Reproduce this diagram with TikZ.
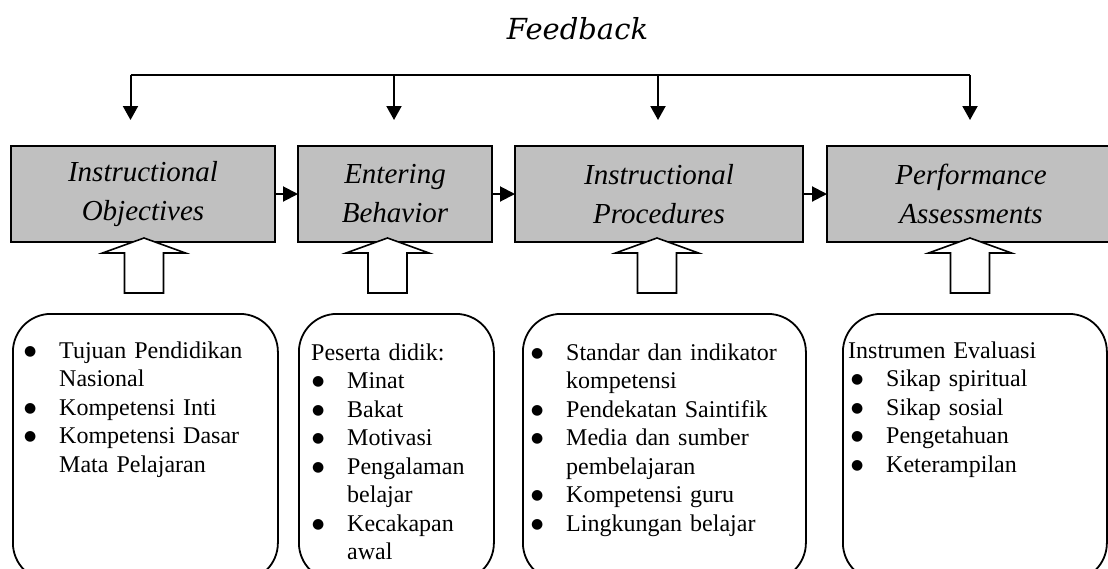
\documentclass[tikz,border=0pt]{standalone}
\usepackage{fontspec}
\setmainfont{Liberation Serif}
\newfontfamily\fbfont{DejaVu Serif}
\newfontfamily\symfont{DejaVu Sans}
\usetikzlibrary{arrows.meta, positioning, calc}
\definecolor{boxgray}{HTML}{C0C0C0}

% one bullet line, and the wrapped line under it
\newcommand{\bigbullet}{\raisebox{3pt}{\fontsize{14}{14}\symfont ●}}
\newcommand{\itm}[1]{\noindent\makebox[35pt][l]{\bigbullet}#1\par}
\newcommand{\cont}[1]{\noindent\hspace*{35pt}#1\par}

\begin{document}
\begin{tikzpicture}[
  x=1pt, y=-1pt,
  stagebox/.style={draw, line width=2pt, fill=boxgray, minimum height=96pt, align=center, inner sep=0pt, outer sep=0pt, font=\itshape\fontsize{29}{39}\selectfont},
  inputbox/.style={draw, line width=1.8pt, rounded corners=38pt, minimum height=267pt, anchor=north west, inner sep=0pt},
  listtext/.style={anchor=base west, inner sep=0pt, text width=#1, font=\fontsize{24}{28.5}\selectfont},
  fbarrow/.style={line width=2pt, -{Triangle[length=14pt, width=15pt]}},
  linkarrow/.style={line width=2pt, -{Triangle[length=15pt, width=15pt]}},
  hollowup/.pic={\draw[line width=1.6pt, fill=white] (-19.5,0) -- (-19.5,-40) -- (-41.5,-40) -- (0,-55) -- (41.5,-40) -- (19.5,-40) -- (19.5,0) -- cycle;},
]
  \useasboundingbox (0,0) rectangle (1108,568);
  \clip (0,0) rectangle (1108,568);

  \node[font=\fbfont\itshape\fontsize{29}{35}\selectfont, anchor=base] (fb) at (577.5,39) {Feedback};

  \node[stagebox, minimum width=264pt] (io) at (143,194) {Instructional\\Objectives};
  \node[stagebox, minimum width=194pt, right=23pt of io] (eb) {Entering\\Behavior};
  \node[stagebox, minimum width=288pt, right=23pt of eb] (ip) {Instructional\\Procedures};
  \node[stagebox, minimum width=288pt, right=24pt of ip] (pa) {Performance\\Assessments};

  \coordinate (d1) at (130.5,75);
  \coordinate (d2) at (394,75);
  \coordinate (d3) at (658,75);
  \coordinate (d4) at (970,75);
  \draw[line width=1.3pt] (d1) -- (d4);
  \foreach \d/\b in {d1/io, d2/eb, d3/ip, d4/pa}
    \draw[fbarrow, shorten >=26pt] (\d) -- (\d |- \b.north);

  \draw[linkarrow] (io) -- (eb);
  \draw[linkarrow] (eb) -- (ip);
  \draw[linkarrow] (ip) -- (pa);

  \pic at (144,293) {hollowup};
  \pic at (387.5,293) {hollowup};
  \pic at (657,293) {hollowup};
  \pic at (970,293) {hollowup};

  \node[inputbox, minimum width=265pt] (c1) at (12,313) {};
  \node[inputbox, minimum width=195pt] (c2) at (298,313) {};
  \node[inputbox, minimum width=283pt] (c3) at (522,313) {};
  \node[inputbox, minimum width=264pt] (c4) at (842,313) {};

  \node[listtext=245pt] (t1) at (24,358) {\itm{Tujuan Pendidikan}\cont{Nasional}\itm{Kompetensi Inti}\itm{Kompetensi Dasar}\cont{Mata Pelajaran}};
  \node[listtext=180pt] (t2) at (312,360) {\noindent\hspace*{-1pt}Peserta didik:\par\itm{Minat}\itm{Bakat}\itm{Motivasi}\itm{Pengalaman}\cont{belajar}\itm{Kecakapan}\cont{awal}};
  \node[listtext=270pt] (t3) at (531,360) {\itm{Standar dan indikator}\cont{kompetensi}\itm{Pendekatan Saintifik}\itm{Media dan sumber}\cont{pembelajaran}\itm{Kompetensi guru}\itm{Lingkungan belajar}};
  \node[listtext=250pt] (t4) at (851,358) {\noindent\hspace*{-3pt}Instrumen Evaluasi\par\itm{Sikap spiritual}\itm{Sikap sosial}\itm{Pengetahuan}\itm{Keterampilan}};
\end{tikzpicture}
\end{document}
